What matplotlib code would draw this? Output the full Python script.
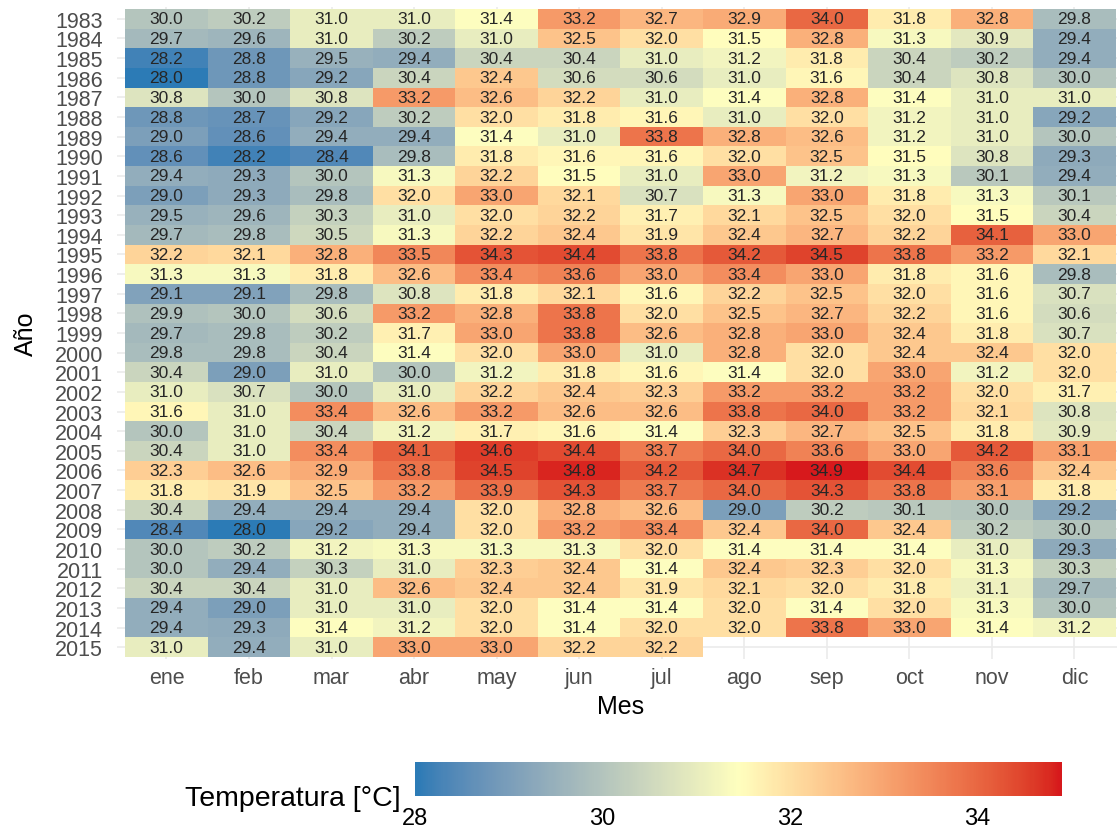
import numpy as np
import matplotlib
matplotlib.use("Agg")
import matplotlib.pyplot as plt
from matplotlib.colors import ListedColormap, Normalize

plt.rcParams['font.family'] = ['Liberation Sans', 'DejaVu Sans']

meses = ["ene", "feb", "mar", "abr", "may", "jun", "jul", "ago", "sep", "oct", "nov", "dic"]
anios = list(range(1983, 2016))

t1983 = [30.0, 30.2, 31.0, 31.0, 31.4, 33.2, 32.7, 32.9, 34.0, 31.8, 32.8, 29.8]
t1984 = [29.7, 29.6, 31.0, 30.2, 31.0, 32.5, 32.0, 31.5, 32.8, 31.3, 30.9, 29.4]
t1985 = [28.2, 28.8, 29.5, 29.4, 30.4, 30.4, 31.0, 31.2, 31.8, 30.4, 30.2, 29.4]
t1986 = [28.0, 28.8, 29.2, 30.4, 32.4, 30.6, 30.6, 31.0, 31.6, 30.4, 30.8, 30.0]
t1987 = [30.8, 30.0, 30.8, 33.2, 32.6, 32.2, 31.0, 31.4, 32.8, 31.4, 31.0, 31.0]
t1988 = [28.8, 28.7, 29.2, 30.2, 32.0, 31.8, 31.6, 31.0, 32.0, 31.2, 31.0, 29.2]
t1989 = [29.0, 28.6, 29.4, 29.4, 31.4, 31.0, 33.8, 32.8, 32.6, 31.2, 31.0, 30.0]
t1990 = [28.6, 28.2, 28.4, 29.8, 31.8, 31.6, 31.6, 32.0, 32.5, 31.5, 30.8, 29.3]
t1991 = [29.4, 29.3, 30.0, 31.3, 32.2, 31.5, 31.0, 33.0, 31.2, 31.3, 30.1, 29.4]
t1992 = [29.0, 29.3, 29.8, 32.0, 33.0, 32.1, 30.7, 31.3, 33.0, 31.8, 31.3, 30.1]
t1993 = [29.5, 29.6, 30.3, 31.0, 32.0, 32.2, 31.7, 32.1, 32.5, 32.0, 31.5, 30.4]
t1994 = [29.7, 29.8, 30.5, 31.3, 32.2, 32.4, 31.9, 32.4, 32.7, 32.2, 34.1, 33.0]
t1995 = [32.2, 32.1, 32.8, 33.5, 34.3, 34.4, 33.8, 34.2, 34.5, 33.8, 33.2, 32.1]
t1996 = [31.3, 31.3, 31.8, 32.6, 33.4, 33.6, 33.0, 33.4, 33.0, 31.8, 31.6, 29.8]
t1997 = [29.1, 29.1, 29.8, 30.8, 31.8, 32.1, 31.6, 32.2, 32.5, 32.0, 31.6, 30.7]
t1998 = [29.9, 30.0, 30.6, 33.2, 32.8, 33.8, 32.0, 32.5, 32.7, 32.2, 31.6, 30.6]
t1999 = [29.7, 29.8, 30.2, 31.7, 33.0, 33.8, 32.6, 32.8, 33.0, 32.4, 31.8, 30.7]
t2000 = [29.8, 29.8, 30.4, 31.4, 32.0, 33.0, 31.0, 32.8, 32.0, 32.4, 32.4, 32.0]
t2001 = [30.4, 29.0, 31.0, 30.0, 31.2, 31.8, 31.6, 31.4, 32.0, 33.0, 31.2, 32.0]
t2002 = [31.0, 30.7, 30.0, 31.0, 32.2, 32.4, 32.3, 33.2, 33.2, 33.2, 32.0, 31.7]
t2003 = [31.6, 31.0, 33.4, 32.6, 33.2, 32.6, 32.6, 33.8, 34.0, 33.2, 32.1, 30.8]
t2004 = [30.0, 31.0, 30.4, 31.2, 31.7, 31.6, 31.4, 32.3, 32.7, 32.5, 31.8, 30.9]
t2005 = [30.4, 31.0, 33.4, 34.1, 34.6, 34.4, 33.7, 34.0, 33.6, 33.0, 34.2, 33.1]
t2006 = [32.3, 32.6, 32.9, 33.8, 34.5, 34.8, 34.2, 34.7, 34.9, 34.4, 33.6, 32.4]
t2007 = [31.8, 31.9, 32.5, 33.2, 33.9, 34.3, 33.7, 34.0, 34.3, 33.8, 33.1, 31.8]
t2008 = [30.4, 29.4, 29.4, 29.4, 32.0, 32.8, 32.6, 29.0, 30.2, 30.1, 30.0, 29.2]
t2009 = [28.4, 28.0, 29.2, 29.4, 32.0, 33.2, 33.4, 32.4, 34.0, 32.4, 30.2, 30.0]
t2010 = [30.0, 30.2, 31.2, 31.3, 31.3, 31.3, 32.0, 31.4, 31.4, 31.4, 31.0, 29.3]
t2011 = [30.0, 29.4, 30.3, 31.0, 32.3, 32.4, 31.4, 32.4, 32.3, 32.0, 31.3, 30.3]
t2012 = [30.4, 30.4, 31.0, 32.6, 32.4, 32.4, 31.9, 32.1, 32.0, 31.8, 31.1, 29.7]
t2013 = [29.4, 29.0, 31.0, 31.0, 32.0, 31.4, 31.4, 32.0, 31.4, 32.0, 31.3, 30.0]
t2014 = [29.4, 29.3, 31.4, 31.2, 32.0, 31.4, 32.0, 32.0, 33.8, 33.0, 31.4, 31.2]
t2015 = [31.0, 29.4, 31.0, 33.0, 33.0, 32.2, 32.2, None, None, None, None, None]

filas = [t1983, t1984, t1985, t1986, t1987, t1988, t1989, t1990, t1991, t1992,
         t1993, t1994, t1995, t1996, t1997, t1998, t1999, t2000, t2001, t2002,
         t2003, t2004, t2005, t2006, t2007, t2008, t2009, t2010, t2011, t2012,
         t2013, t2014, t2015]
datos = np.array([[np.nan if v is None else v for v in f] for f in filas])


# gradiente tipo ggplot (interpolado en Lab)
def hex2rgb(h):
    return np.array([int(h[i:i + 2], 16) / 255 for i in (1, 3, 5)])


def rgb2lab(c):
    c = np.where(c > 0.04045, ((c + 0.055) / 1.055) ** 2.4, c / 12.92)
    M = np.array([[0.4124, 0.3576, 0.1805], [0.2126, 0.7152, 0.0722], [0.0193, 0.1192, 0.9505]])
    xyz = M @ c / np.array([0.95047, 1.0, 1.08883])
    f = np.where(xyz > 0.008856, np.cbrt(xyz), 7.787 * xyz + 16 / 116)
    return np.array([116 * f[1] - 16, 500 * (f[0] - f[1]), 200 * (f[1] - f[2])])


def lab2rgb(lab):
    fy = (lab[0] + 16) / 116
    fx = fy + lab[1] / 500
    fz = fy - lab[2] / 200
    f = np.array([fx, fy, fz])
    xyz = np.where(f ** 3 > 0.008856, f ** 3, (f - 16 / 116) / 7.787) * np.array([0.95047, 1.0, 1.08883])
    Minv = np.array([[3.2406, -1.5372, -0.4986], [-0.9689, 1.8758, 0.0415], [0.0557, -0.2040, 1.0570]])
    c = Minv @ xyz
    c = np.where(c > 0.0031308, 1.055 * np.clip(c, 0, None) ** (1 / 2.4) - 0.055, 12.92 * c)
    return np.clip(c, 0, 1)


nodos = [rgb2lab(hex2rgb(h)) for h in ["#2c7bb6", "#ffffbf", "#d7191c"]]
cols = []
for t in np.linspace(0, 1, 256):
    if t <= 0.5:
        lab = nodos[0] + (nodos[1] - nodos[0]) * (t / 0.5)
    else:
        lab = nodos[1] + (nodos[2] - nodos[1]) * ((t - 0.5) / 0.5)
    cols.append(lab2rgb(lab))
cmap = ListedColormap(cols)
vmin, vmax = np.nanmin(datos), np.nanmax(datos)
norm = Normalize(vmin, vmax)

fig = plt.figure(figsize=(11.17, 8.29), dpi=100)
ax = fig.add_axes([0.1047, 0.2039, 0.9015, 0.7864])

masked = np.ma.masked_invalid(datos)
ax.pcolormesh(np.arange(13) - 0.5, np.arange(34) - 0.5, masked, cmap=cmap, norm=norm, zorder=2)

for i in range(len(anios)):
    for j in range(12):
        v = datos[i, j]
        if not np.isnan(v):
            ax.text(j, i, f"{v:.1f}", ha="center", va="center", fontsize=12.5, color="#262626", zorder=3)

ax.set_xlim(-0.6, 11.6)
ax.set_ylim(32.6, -0.6)
ax.set_xticks(range(12))
ax.set_xticklabels(meses)
ax.set_yticks(range(len(anios)))
ax.set_yticklabels([str(a) for a in anios])
ax.tick_params(axis="both", length=0, labelsize=15.5, labelcolor="#4d4d4d")
ax.tick_params(axis="y", pad=10)
ax.tick_params(axis="x", pad=6)
ax.grid(True, color="#ebebeb", linewidth=1.2, zorder=0)
ax.set_axisbelow(True)
for s in ax.spines.values():
    s.set_visible(False)
ax.set_xlabel("Mes", fontsize=18, labelpad=4)
ax.set_ylabel("Año", fontsize=18, labelpad=12)

cax = fig.add_axes([0.3715, 0.039, 0.5792, 0.041])
grad = np.linspace(vmin, vmax, 300).reshape(1, -1)
cax.imshow(grad, aspect="auto", cmap=cmap, norm=norm, extent=[vmin, vmax, 0, 1])
cax.set_xlim(vmin, vmax)
cax.set_yticks([])
cax.set_xticks([28, 30, 32, 34])
cax.tick_params(axis="x", length=0, labelsize=17, pad=8)
for s in cax.spines.values():
    s.set_visible(False)
fig.text(0.359, 0.036, "Temperatura [°C]", ha="right", va="center", fontsize=20.5)

fig.savefig("out.png", dpi=100)
